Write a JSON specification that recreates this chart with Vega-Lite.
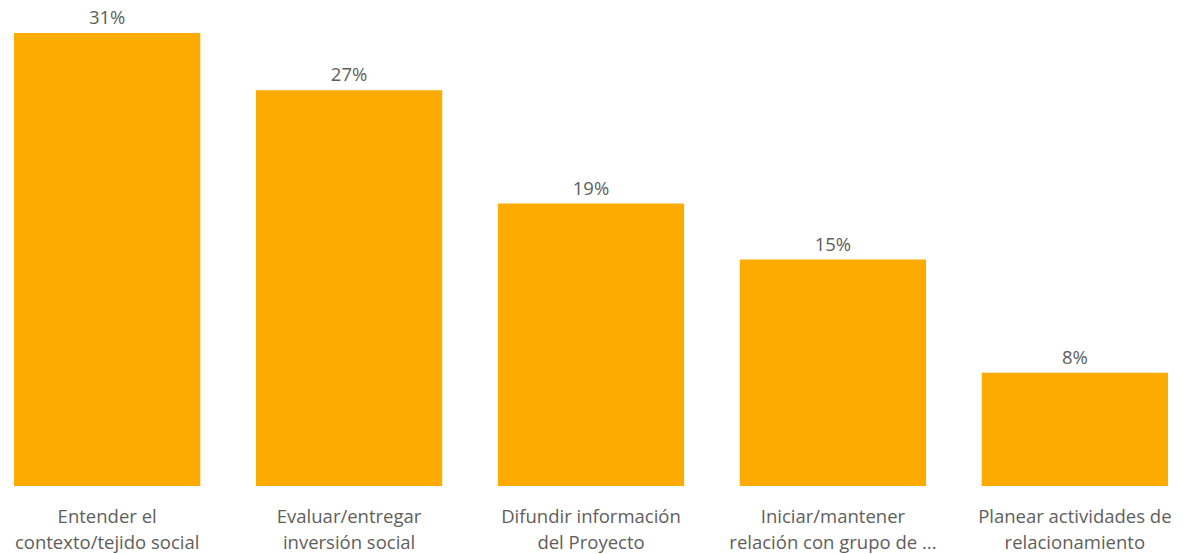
{
  "$schema": "https://vega.github.io/schema/vega-lite/v6.json",
  "autosize": "none",
  "width": 1182,
  "height": 453,
  "padding": {"left": 0, "top": 33, "right": 8, "bottom": 68},
  "background": "white",
  "config": {
    "view": {"stroke": null},
    "font": "Open Sans"
  },
  "data": {
    "values": [
      {"categoria": "Entender el|contexto/tejido social", "valor": 0.308},
      {"categoria": "Evaluar/entregar|inversión social", "valor": 0.269},
      {"categoria": "Difundir información|del Proyecto", "valor": 0.192},
      {"categoria": "Iniciar/mantener|relación con grupo de ...", "valor": 0.154},
      {"categoria": "Planear actividades de|relacionamiento", "valor": 0.077}
    ]
  },
  "encoding": {
    "x": {
      "field": "categoria",
      "type": "nominal",
      "sort": null,
      "scale": {"paddingInner": 0.23, "paddingOuter": 0.058},
      "axis": {
        "title": null,
        "labelAngle": 0,
        "domain": false,
        "ticks": false,
        "grid": false,
        "labelPadding": 21,
        "labelFontSize": 18.5,
        "labelColor": "#605E5C",
        "labelFont": "Open Sans",
        "labelLineHeight": 26,
        "labelLimit": 300,
        "labelExpr": "split(datum.label, '|')"
      }
    },
    "y": {
      "field": "valor",
      "type": "quantitative",
      "scale": {"domain": [0, 0.308], "nice": false, "zero": true},
      "axis": null
    }
  },
  "layer": [
    {
      "mark": {"type": "bar", "color": "#FDAB00"}
    },
    {
      "mark": {
        "type": "text",
        "baseline": "bottom",
        "dy": -5,
        "fontSize": 18.5,
        "color": "#605E5C",
        "font": "Open Sans"
      },
      "encoding": {
        "text": {"field": "valor", "type": "quantitative", "format": ".0%"}
      }
    }
  ]
}
